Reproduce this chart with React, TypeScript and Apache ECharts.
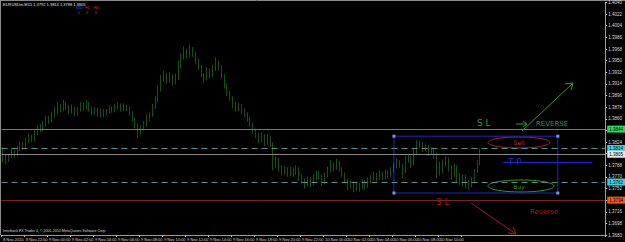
import React, { useEffect, useRef } from "react";
import * as echarts from "echarts";

const symbolTitle = "EURUSDm,M15";
const titleQuotes = ["1.3792", "1.3814", "1.3788", "1.3805"];
const copyright = "Interbank FX Trader 4, © 2001-2010 MetaQuotes Software Corp.";

const timeTicks = [
  "8 Nov 2010", "8 Nov 22:00", "9 Nov 00:00", "9 Nov 02:00", "9 Nov 04:00", "9 Nov 06:00",
  "9 Nov 08:00", "9 Nov 10:00", "9 Nov 12:00", "9 Nov 14:00", "9 Nov 16:00", "9 Nov 18:00",
  "9 Nov 20:00", "9 Nov 22:00", "10 Nov 00:00", "10 Nov 02:00", "10 Nov 04:00", "10 Nov 06:00",
  "10 Nov 08:00", "10 Nov 10:00", "10 Nov 12:00",
];
const barsPerTick = 8;
const slotCount = 210;

const opens = [
  1.3810, 1.3800, 1.3796, 1.3802, 1.3808, 1.3805, 1.3813, 1.3820, 1.3817, 1.3826,
  1.3832, 1.3828, 1.3838, 1.3846, 1.3843, 1.3852, 1.3860, 1.3857, 1.3866, 1.3872,
  1.3878, 1.3875, 1.3882, 1.3878, 1.3872, 1.3876, 1.3869, 1.3874, 1.3880, 1.3877,
  1.3883, 1.3876, 1.3870, 1.3874, 1.3868, 1.3872, 1.3868, 1.3871, 1.3876, 1.3873,
  1.3878, 1.3881, 1.3875, 1.3879, 1.3876, 1.3870, 1.3860, 1.3850, 1.3838, 1.3845,
  1.3852, 1.3860, 1.3866, 1.3878, 1.3890, 1.3905, 1.3922, 1.3928, 1.3920, 1.3926,
  1.3916, 1.3924, 1.3942, 1.3956, 1.3965, 1.3958, 1.3968, 1.3962, 1.3950, 1.3940,
  1.3928, 1.3922, 1.3935, 1.3926, 1.3938, 1.3947, 1.3940, 1.3926, 1.3912, 1.3900,
  1.3892, 1.3882, 1.3876, 1.3880, 1.3872, 1.3868, 1.3860, 1.3852, 1.3842, 1.3834,
  1.3828, 1.3833, 1.3824, 1.3830, 1.3820, 1.3788, 1.3796, 1.3784, 1.3778, 1.3782,
  1.3774, 1.3780, 1.3776, 1.3782, 1.3770, 1.3764, 1.3758, 1.3766, 1.3760, 1.3768,
  1.3775, 1.3770, 1.3762, 1.3772, 1.3780, 1.3788, 1.3784, 1.3792, 1.3782, 1.3774,
  1.3764, 1.3756, 1.3760, 1.3752, 1.3758, 1.3754, 1.3762, 1.3756, 1.3764, 1.3768,
  1.3772, 1.3768, 1.3774, 1.3770, 1.3776, 1.3772, 1.3780, 1.3786, 1.3792, 1.3788,
  1.3780, 1.3796, 1.3800, 1.3790, 1.3808, 1.3818, 1.3822, 1.3814, 1.3818, 1.3808,
  1.3812, 1.3804, 1.3790, 1.3780, 1.3792, 1.3798, 1.3784, 1.3776, 1.3786, 1.3772,
  1.3764, 1.3770, 1.3762, 1.3756, 1.3766, 1.3778, 1.3792,
];
const closes = [
  1.3800, 1.3796, 1.3802, 1.3808, 1.3805, 1.3813, 1.3820, 1.3817, 1.3826, 1.3832,
  1.3828, 1.3838, 1.3846, 1.3843, 1.3852, 1.3860, 1.3857, 1.3866, 1.3872, 1.3878,
  1.3875, 1.3882, 1.3878, 1.3872, 1.3876, 1.3869, 1.3874, 1.3880, 1.3877, 1.3883,
  1.3876, 1.3870, 1.3874, 1.3868, 1.3872, 1.3868, 1.3871, 1.3876, 1.3873, 1.3878,
  1.3881, 1.3875, 1.3879, 1.3876, 1.3870, 1.3860, 1.3850, 1.3838, 1.3845, 1.3852,
  1.3860, 1.3866, 1.3878, 1.3890, 1.3905, 1.3922, 1.3928, 1.3920, 1.3926, 1.3916,
  1.3924, 1.3942, 1.3956, 1.3965, 1.3958, 1.3968, 1.3962, 1.3950, 1.3940, 1.3928,
  1.3922, 1.3935, 1.3926, 1.3938, 1.3947, 1.3940, 1.3926, 1.3912, 1.3900, 1.3892,
  1.3882, 1.3876, 1.3880, 1.3872, 1.3868, 1.3860, 1.3852, 1.3842, 1.3834, 1.3828,
  1.3833, 1.3824, 1.3830, 1.3820, 1.3788, 1.3796, 1.3784, 1.3778, 1.3782, 1.3774,
  1.3780, 1.3776, 1.3782, 1.3770, 1.3764, 1.3758, 1.3766, 1.3760, 1.3768, 1.3775,
  1.3770, 1.3762, 1.3772, 1.3780, 1.3788, 1.3784, 1.3792, 1.3782, 1.3774, 1.3764,
  1.3756, 1.3760, 1.3752, 1.3758, 1.3754, 1.3762, 1.3756, 1.3764, 1.3768, 1.3772,
  1.3768, 1.3774, 1.3770, 1.3776, 1.3772, 1.3780, 1.3786, 1.3792, 1.3788, 1.3780,
  1.3796, 1.3800, 1.3790, 1.3808, 1.3818, 1.3822, 1.3814, 1.3818, 1.3808, 1.3812,
  1.3804, 1.3790, 1.3780, 1.3792, 1.3798, 1.3784, 1.3776, 1.3786, 1.3772, 1.3764,
  1.3770, 1.3762, 1.3756, 1.3766, 1.3778, 1.3792, 1.3805,
];
const highs = [
  1.3816, 1.3804, 1.3806, 1.3813, 1.3812, 1.3818, 1.3825, 1.3824, 1.3831, 1.3837,
  1.3835, 1.3842, 1.3850, 1.3852, 1.3857, 1.3865, 1.3864, 1.3871, 1.3878, 1.3886,
  1.3883, 1.3889, 1.3886, 1.3881, 1.3882, 1.3879, 1.3878, 1.3886, 1.3885, 1.3889,
  1.3886, 1.3879, 1.3878, 1.3877, 1.3876, 1.3875, 1.3875, 1.3881, 1.3879, 1.3883,
  1.3886, 1.3884, 1.3884, 1.3882, 1.3879, 1.3872, 1.3862, 1.3852, 1.3850, 1.3857,
  1.3866, 1.3870, 1.3883, 1.3895, 1.3912, 1.3928, 1.3934, 1.3931, 1.3932, 1.3929,
  1.3930, 1.3950, 1.3962, 1.3972, 1.3968, 1.3975, 1.3971, 1.3964, 1.3953, 1.3943,
  1.3931, 1.3940, 1.3938, 1.3944, 1.3955, 1.3950, 1.3943, 1.3929, 1.3915, 1.3903,
  1.3895, 1.3886, 1.3885, 1.3883, 1.3876, 1.3870, 1.3863, 1.3854, 1.3845, 1.3838,
  1.3839, 1.3836, 1.3836, 1.3833, 1.3824, 1.3802, 1.3800, 1.3788, 1.3787, 1.3785,
  1.3786, 1.3784, 1.3788, 1.3785, 1.3774, 1.3768, 1.3771, 1.3770, 1.3774, 1.3780,
  1.3779, 1.3773, 1.3777, 1.3786, 1.3796, 1.3792, 1.3798, 1.3795, 1.3785, 1.3777,
  1.3767, 1.3765, 1.3763, 1.3762, 1.3761, 1.3767, 1.3765, 1.3769, 1.3773, 1.3778,
  1.3776, 1.3780, 1.3778, 1.3782, 1.3780, 1.3785, 1.3791, 1.3799, 1.3796, 1.3790,
  1.3802, 1.3806, 1.3803, 1.3814, 1.3827, 1.3826, 1.3824, 1.3822, 1.3820, 1.3816,
  1.3815, 1.3808, 1.3794, 1.3797, 1.3802, 1.3800, 1.3788, 1.3790, 1.3788, 1.3776,
  1.3774, 1.3773, 1.3766, 1.3770, 1.3782, 1.3796, 1.3814,
];
const lows = [
  1.3792, 1.3790, 1.3793, 1.3799, 1.3800, 1.3802, 1.3810, 1.3812, 1.3814, 1.3822,
  1.3824, 1.3825, 1.3834, 1.3839, 1.3840, 1.3848, 1.3852, 1.3854, 1.3862, 1.3868,
  1.3870, 1.3872, 1.3874, 1.3867, 1.3868, 1.3864, 1.3865, 1.3871, 1.3872, 1.3874,
  1.3871, 1.3865, 1.3866, 1.3863, 1.3862, 1.3863, 1.3865, 1.3868, 1.3869, 1.3870,
  1.3875, 1.3871, 1.3872, 1.3872, 1.3865, 1.3856, 1.3845, 1.3830, 1.3834, 1.3842,
  1.3848, 1.3856, 1.3863, 1.3875, 1.3886, 1.3902, 1.3918, 1.3914, 1.3916, 1.3912,
  1.3913, 1.3920, 1.3938, 1.3952, 1.3953, 1.3955, 1.3956, 1.3945, 1.3936, 1.3924,
  1.3916, 1.3919, 1.3922, 1.3924, 1.3934, 1.3935, 1.3922, 1.3907, 1.3895, 1.3888,
  1.3877, 1.3871, 1.3872, 1.3867, 1.3863, 1.3855, 1.3848, 1.3837, 1.3830, 1.3822,
  1.3824, 1.3818, 1.3820, 1.3816, 1.3780, 1.3784, 1.3778, 1.3772, 1.3774, 1.3770,
  1.3771, 1.3770, 1.3773, 1.3764, 1.3758, 1.3752, 1.3755, 1.3754, 1.3757, 1.3764,
  1.3766, 1.3756, 1.3759, 1.3769, 1.3777, 1.3779, 1.3781, 1.3778, 1.3770, 1.3760,
  1.3750, 1.3752, 1.3746, 1.3748, 1.3747, 1.3751, 1.3750, 1.3753, 1.3760, 1.3765,
  1.3763, 1.3765, 1.3766, 1.3767, 1.3768, 1.3770, 1.3777, 1.3783, 1.3784, 1.3768,
  1.3776, 1.3792, 1.3784, 1.3788, 1.3805, 1.3814, 1.3808, 1.3810, 1.3802, 1.3804,
  1.3798, 1.3768, 1.3772, 1.3776, 1.3786, 1.3778, 1.3766, 1.3770, 1.3762, 1.3757,
  1.3755, 1.3752, 1.3750, 1.3754, 1.3762, 1.3776, 1.3788,
];

const priceMin = 1.368;
const priceMax = 1.404;
const priceStep = 0.0018;

const levelStopHigh = 1.3844;
const levelSell = 1.3814;
const levelBid = 1.3805;
const levelBuy = 1.3762;
const levelStopLow = 1.3734;

const boxFrom = 136;
const boxTo = 193;
const boxTop = 1.3833;
const boxBottom = 1.3745;
const tpFrom = 174;
const tpTo = 205;
const tpLevel = 1.3793;

const FONT = "Liberation Sans";

function priceLine(value: number, color: string, type: any, labelBg: string, labelColor: string) {
  return {
    yAxis: value,
    lineStyle: { color, width: 1, type },
    label: {
      show: true,
      position: "end",
      distance: 2,
      formatter: value.toFixed(4),
      backgroundColor: labelBg,
      color: labelColor,
      fontSize: 4.5,
      fontFamily: FONT,
      padding: [1, 2],
    },
  };
}

export default function App() {
  const ref = useRef<HTMLDivElement>(null);
  useEffect(() => {
    document.body.style.margin = "0";
    document.body.style.background = "#000";
    if (!ref.current) return;
    const chart = echarts.init(ref.current, null, { renderer: "svg" });
    const categories = Array.from({ length: slotCount }, (_, i) => String(i));
    const candles = opens.map((o, i) => [o, closes[i], lows[i], highs[i]]);
    const lastTickIndex = (timeTicks.length - 1) * barsPerTick;
    const showTick = (i: number) => i % barsPerTick === 0 && i <= lastTickIndex;

    chart.setOption({
      animation: false,
      backgroundColor: "#000",
      grid: { left: 1, top: 2, right: 14, bottom: 7, show: false },
      xAxis: {
        type: "category",
        data: categories,
        boundaryGap: true,
        axisLine: { show: true, lineStyle: { color: "#9a9a9a", width: 1 } },
        axisTick: { show: true, interval: (i: number) => showTick(i), length: 2, lineStyle: { color: "#bbb" } },
        axisLabel: {
          interval: (i: number) => showTick(i),
          formatter: (_v: string, i: number) => (showTick(i) ? timeTicks[i / barsPerTick] : ""),
          color: "#d8d8d8",
          fontSize: 4,
          fontFamily: FONT,
          align: "left",
          margin: 2,
        },
        splitLine: { show: false },
      },
      yAxis: {
        type: "value",
        position: "right",
        min: priceMin,
        max: priceMax,
        interval: priceStep,
        axisLine: { show: true, lineStyle: { color: "#9a9a9a", width: 1 } },
        axisTick: { show: true, length: 2, lineStyle: { color: "#bbb" } },
        axisLabel: {
          formatter: (v: number) => v.toFixed(4),
          color: "#d8d8d8",
          fontSize: 4.5,
          fontFamily: FONT,
          margin: 3,
        },
        splitLine: { show: false },
      },
      series: [
        {
          type: "candlestick",
          data: candles,
          barWidth: 1,
          itemStyle: {
            color: "#2a8f2a",
            color0: "#2a8f2a",
            borderColor: "#349c34",
            borderColor0: "#349c34",
            borderWidth: 0.5,
          },
          markLine: {
            silent: true,
            precision: 4,
            symbol: ["none", "none"],
            data: [
              priceLine(levelStopHigh, "#3f9f45", "solid", "#2bd85a", "#000"),
              priceLine(levelSell, "#5e8c8c", [6, 4], "#3fcfdf", "#000"),
              priceLine(levelBid, "#8a8a8a", "solid", "#e6e6e6", "#000"),
              priceLine(levelBuy, "#5e8c8c", [6, 4], "#3fcfdf", "#000"),
              priceLine(levelStopLow, "#7c2020", "solid", "#f0562a", "#000"),
              [
                { coord: [tpFrom, tpLevel], lineStyle: { color: "#2626c8", width: 1, type: "solid" }, label: { show: false } },
                { coord: [tpTo, tpLevel] },
              ],
            ],
          },
          markArea: {
            silent: true,
            itemStyle: { color: "rgba(0,0,0,0)", borderColor: "#2424c0", borderWidth: 1 },
            data: [[{ xAxis: boxFrom, yAxis: boxTop }, { xAxis: boxTo, yAxis: boxBottom }]],
          },
        },
        {
          type: "scatter",
          symbol: "rect",
          symbolSize: 3,
          itemStyle: { color: "#9fb4ff" },
          data: [
            [boxFrom, boxTop],
            [boxTo, boxTop],
            [boxFrom, boxBottom],
            [boxTo, boxBottom],
          ],
        },
      ],
      graphic: [
        { type: "line", shape: { x1: 0, y1: 0.5, x2: 625, y2: 0.5 }, style: { stroke: "#8a8a8a", lineWidth: 1 } },
        { type: "line", shape: { x1: 0.5, y1: 0, x2: 0.5, y2: 235 }, style: { stroke: "#8a8a8a", lineWidth: 1 } },
        {
          type: "text", x: 3, y: 2,
          style: { text: symbolTitle + " " + titleQuotes.join(" "), fill: "#e0e0e0", fontSize: 4, fontFamily: FONT },
        },
        { type: "text", x: 76, y: 5, style: { text: "M15\n  0", fill: "#3050ff", fontSize: 3.5, fontFamily: FONT, lineHeight: 5 } },
        { type: "text", x: 85, y: 5, style: { text: "H1\n 0", fill: "#e03030", fontSize: 3.5, fontFamily: FONT, lineHeight: 5 } },
        { type: "text", x: 94, y: 5, style: { text: "H4\n 0", fill: "#e03030", fontSize: 3.5, fontFamily: FONT, lineHeight: 5 } },
        {
          type: "text", x: 3, y: 229,
          style: { text: copyright, fill: "#d0d0d0", fontSize: 3.6, fontFamily: FONT },
        },
        { type: "text", x: 477, y: 118, style: { text: "S L", fill: "#2e9a3a", fontSize: 9, fontFamily: "DejaVu Sans" } },
        { type: "line", shape: { x1: 516, y1: 124, x2: 527, y2: 124 }, style: { stroke: "#2e9a3a", lineWidth: 1 } },
        { type: "polyline", shape: { points: [[523, 121], [527, 124], [523, 127]] }, style: { stroke: "#2e9a3a", lineWidth: 1, fill: "none" } },
        { type: "text", x: 536, y: 120, style: { text: "REVERSE", fill: "#2e9a3a", fontSize: 7, fontFamily: "DejaVu Sans", letterSpacing: 0.5 } },
        { type: "line", shape: { x1: 522, y1: 131, x2: 573, y2: 83 }, style: { stroke: "#2e9a3a", lineWidth: 1 } },
        { type: "polyline", shape: { points: [[565, 84], [573, 83], [571, 90]] }, style: { stroke: "#2e9a3a", lineWidth: 1, fill: "none" } },
        { type: "ellipse", shape: { cx: 519, cy: 142.5, rx: 31, ry: 5.5 }, style: { stroke: "#b02525", lineWidth: 1, fill: "none" } },
        { type: "text", x: 519, y: 142.5, style: { text: "Sell", fill: "#c03030", fontSize: 6, fontFamily: "DejaVu Sans", align: "center", verticalAlign: "middle" } },
        { type: "ellipse", shape: { cx: 521, cy: 186, rx: 33, ry: 6 }, style: { stroke: "#2e9a3a", lineWidth: 1, fill: "none" } },
        { type: "text", x: 519, y: 186.5, style: { text: "Buy", fill: "#2e9a3a", fontSize: 6, fontFamily: "DejaVu Sans", align: "center", verticalAlign: "middle" } },
        { type: "text", x: 508, y: 157, style: { text: "T P", fill: "#2626c8", fontSize: 9, fontFamily: "DejaVu Sans" } },
        { type: "text", x: 436, y: 197, style: { text: "S L", fill: "#a01c1c", fontSize: 9, fontFamily: "DejaVu Sans" } },
        { type: "line", shape: { x1: 471, y1: 203, x2: 516, y2: 234 }, style: { stroke: "#a01c1c", lineWidth: 1 } },
        { type: "polyline", shape: { points: [[508, 233], [516, 234], [513, 227]] }, style: { stroke: "#a01c1c", lineWidth: 1, fill: "none" } },
        { type: "text", x: 530, y: 208, style: { text: "Reverse", fill: "#a01c1c", fontSize: 7, fontFamily: "DejaVu Sans" } },
      ],
    });
    return () => chart.dispose();
  }, []);
  return <div ref={ref} style={{ width: 625, height: 242 }} />;
}
